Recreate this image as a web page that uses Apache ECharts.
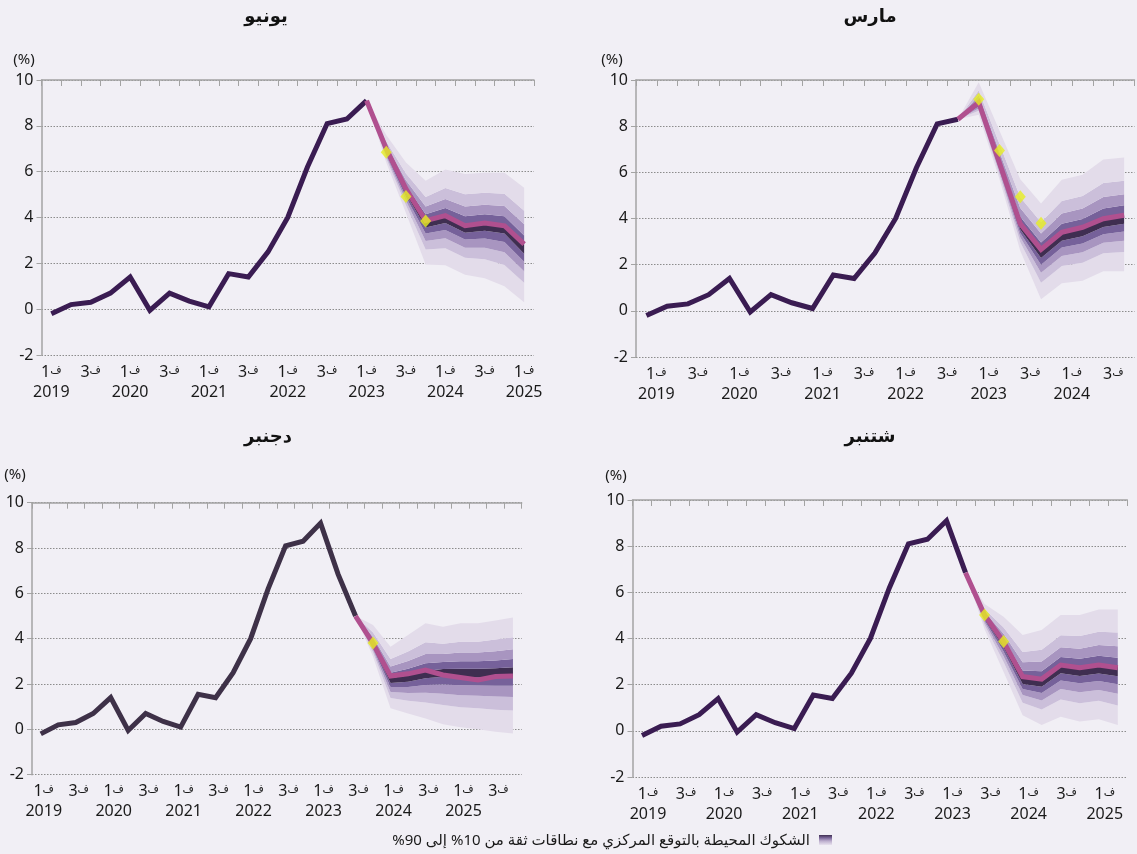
<!DOCTYPE html>
<html><head><meta charset="utf-8">
<script src="https://cdn.jsdelivr.net/npm/echarts@6/dist/echarts.min.js"></script>
<style>html,body{margin:0;padding:0;background:#f1eff5}#c{width:1137px;height:854px}</style>
</head><body><div id="c"></div><script>
// ---------- DATA ----------
const quarters = ['2019Q1','2019Q2','2019Q3','2019Q4','2020Q1','2020Q2','2020Q3','2020Q4',
  '2021Q1','2021Q2','2021Q3','2021Q4','2022Q1','2022Q2','2022Q3','2022Q4',
  '2023Q1','2023Q2','2023Q3','2023Q4','2024Q1','2024Q2','2024Q3','2024Q4',
  '2025Q1','2025Q2','2025Q3','2025Q4'];
// observed inflation (%), 2019Q1 .. 2023Q3
const inflation = [-0.2, 0.2, 0.3, 0.7, 1.4, -0.05, 0.7, 0.35, 0.1, 1.55, 1.4, 2.5, 4.0, 6.2, 8.1, 8.3, 9.1, 6.85, 5.0];

// fan rows: [lo90, lo70, lo50, lo30, lo10, hi10, hi30, hi50, hi70, hi90]
// ---- June (يونيو): forecast from 2023Q1
const centralJune = [9.1, 7.0, 5.25, 3.86, 4.08, 3.64, 3.76, 3.64, 2.84];
const fanJune = [
  [9.1,9.1,9.1,9.1,9.1,9.1,9.1,9.1,9.1,9.1],
  [6.4,6.57,6.67,6.75,6.81,6.91,7.02,7.16,7.32,7.6],
  [4.2,4.53,4.73,4.89,5.03,5.2,5.4,5.63,5.92,6.4],
  [1.95,2.6,2.98,3.3,3.56,3.85,4.14,4.48,4.9,5.6],
  [1.92,2.66,3.1,3.46,3.76,4.09,4.42,4.81,5.29,6.1],
  [1.5,2.24,2.68,3.04,3.34,3.69,4.05,4.48,5.01,5.9],
  [1.35,2.18,2.68,3.08,3.42,3.79,4.14,4.56,5.08,5.95],
  [1.0,1.93,2.48,2.93,3.3,3.7,4.06,4.5,5.04,5.95],
  [0.3,1.15,1.66,2.07,2.42,2.82,3.22,3.71,4.3,5.3]
];
const outturnJune = ['-', 6.85, 4.92, 3.85];

// ---- March (مارس): forecast from 2022Q4
const centralMarch = [8.3, 9.03, 6.4, 3.77, 2.66, 3.4, 3.62, 3.99, 4.14];
const fanMarch = [
  [8.3,8.3,8.3,8.3,8.3,8.3,8.3,8.3,8.3,8.3],
  [8.5,8.67,8.77,8.85,8.91,9.03,9.17,9.34,9.55,9.9],
  [5.7,5.9,6.02,6.12,6.21,6.37,6.61,6.89,7.23,7.8],
  [2.6,2.97,3.19,3.37,3.52,3.77,4.08,4.46,4.92,5.7],
  [0.5,1.22,1.65,2.0,2.29,2.63,2.96,3.35,3.84,4.65],
  [1.2,1.94,2.38,2.74,3.04,3.4,3.77,4.22,4.76,5.68],
  [1.3,2.08,2.54,2.92,3.23,3.6,3.98,4.43,4.98,5.9],
  [1.72,2.49,2.95,3.32,3.63,4.02,4.43,4.93,5.54,6.56],
  [1.72,2.55,3.04,3.44,3.77,4.17,4.57,5.05,5.64,6.64]
];
const outturnMarch = ['-', 9.17, 6.95, 4.94, 3.79];

// ---- September (شتنبر): forecast from 2023Q2
const centralSept = [6.85, 5.02, 3.86, 2.35, 2.24, 2.85, 2.73, 2.85, 2.73];
const fanSept = [
  [6.85,6.85,6.85,6.85,6.85,6.85,6.85,6.85,6.85,6.85],
  [4.4,4.59,4.7,4.79,4.86,4.95,5.04,5.15,5.28,5.5],
  [2.55,2.98,3.23,3.44,3.61,3.8,3.99,4.21,4.48,4.94],
  [0.68,1.22,1.55,1.81,2.03,2.31,2.61,2.97,3.41,4.15],
  [0.25,0.92,1.31,1.64,1.91,2.24,2.58,3.0,3.51,4.37],
  [0.61,1.36,1.81,2.18,2.49,2.84,3.2,3.62,4.14,5.02],
  [0.4,1.2,1.67,2.06,2.38,2.75,3.12,3.56,4.11,5.02],
  [0.5,1.3,1.77,2.16,2.48,2.86,3.25,3.72,4.29,5.26],
  [0.25,1.1,1.61,2.02,2.37,2.77,3.17,3.66,4.26,5.26]
];
const outturnSept = ['-', 5.02, 3.87];

// ---- December (دجنبر): forecast from 2023Q3
const centralDec = [5.0, 3.79, 2.35, 2.45, 2.62, 2.4, 2.29, 2.18, 2.33, 2.35];
const fanDec = [
  [5.0,5.0,5.0,5.0,5.0,5.0,5.0,5.0,5.0,5.0],
  [3.2,3.39,3.5,3.59,3.66,3.77,3.91,4.07,4.27,4.6],
  [0.93,1.38,1.65,1.87,2.05,2.27,2.5,2.77,3.1,3.65],
  [0.7,1.26,1.6,1.87,2.1,2.38,2.67,3.02,3.44,4.16],
  [0.48,1.19,1.61,1.96,2.25,2.58,2.92,3.33,3.84,4.68],
  [0.23,1.07,1.57,1.98,2.32,2.66,2.97,3.33,3.78,4.53],
  [0.09,0.98,1.51,1.95,2.31,2.67,3.0,3.39,3.87,4.68],
  [0.0,0.93,1.48,1.93,2.3,2.67,3.0,3.39,3.87,4.68],
  [-0.1,0.87,1.45,1.92,2.31,2.7,3.04,3.45,3.96,4.8],
  [-0.18,0.83,1.43,1.92,2.33,2.74,3.1,3.53,4.06,4.94]
];
const outturnDec = ['-', 3.81];

const panelTitles = ['يونيو', 'مارس', 'دجنبر', 'شتنبر'];
const legendText = 'الشكوك المحيطة بالتوقع المركزي مع نطاقات ثقة من 10% إلى 90%';
const quarterMark = 'ف';

// ---------- STYLE / LAYOUT ----------
const FONT = "'Noto Sans', 'DejaVu Sans', sans-serif";
const bandColors = ['#e3dcea', '#cbbfda', '#a895c0', '#76619a', '#3f2e51']; // 90,70,50,30,10
const panels = [
  {title: panelTitles[0], n: 25, start: 16, central: centralJune, fan: fanJune, out: outturnJune,
   grid: {left: 41.5, top: 80, width: 492.5, height: 275}, shift: 0, hist: '#3a1c52',
   tx: 266, ty: 17, px: 24, py: 60},
  {title: panelTitles[1], n: 24, start: 15, central: centralMarch, fan: fanMarch, out: outturnMarch,
   grid: {left: 636, top: 80, width: 498.5, height: 277}, shift: 10, hist: '#3a1c52',
   tx: 870, ty: 17, px: 612, py: 60},
  {title: panelTitles[2], n: 28, start: 18, central: centralDec, fan: fanDec, out: outturnDec,
   grid: {left: 32, top: 502.7, width: 489.7, height: 272}, shift: 3, hist: '#3e3148',
   tx: 268, ty: 437, px: 15, py: 475},
  {title: panelTitles[3], n: 26, start: 17, central: centralSept, fan: fanSept, out: outturnSept,
   grid: {left: 632.5, top: 500, width: 494.8, height: 277}, shift: 6, hist: '#3a1c52',
   tx: 870, ty: 437, px: 616, py: 476}
];

function pad(start, arr) { return Array(start).fill('-').concat(arr); }
function qLabel(v) {
  const y = v.slice(0, 4), q = v.slice(5);
  return q === '1' ? '{n|1}{q|' + quarterMark + '}\n{y|' + y + '}' : '{n|' + q + '}{q|' + quarterMark + '}';
}

const option = {backgroundColor: '#f1eff5', animation: false, grid: [], xAxis: [], yAxis: [], series: [], graphic: []};

panels.forEach((p, i) => {
  const cats = quarters.slice(0, p.n);
  option.grid.push(Object.assign({outerBoundsMode: 'none', containLabel: false}, p.grid));
  option.xAxis.push({
    gridIndex: i, type: 'category', data: cats, boundaryGap: true, position: 'bottom',
    axisLine: {show: false}, axisTick: {show: false}, splitLine: {show: false},
    axisLabel: {interval: 1, margin: 7, formatter: qLabel, padding: [0, 0, 0, 2 * p.shift],
      rich: {
        n: {fontSize: 16, lineHeight: 20, color: '#1a1a1a', fontFamily: FONT},
        q: {fontSize: 11, lineHeight: 20, color: '#1a1a1a', fontFamily: FONT, padding: [0, 0, 5, 0]},
        y: {fontSize: 16, lineHeight: 20, color: '#1a1a1a', fontFamily: FONT}
      }}
  });
  option.xAxis.push({
    gridIndex: i, type: 'category', data: cats, boundaryGap: true, position: 'top',
    axisLine: {show: true, onZero: true, lineStyle: {color: '#a3a3a3', width: 1.5}},
    axisTick: {show: true, inside: true, interval: 0, length: 6, lineStyle: {color: '#a3a3a3', width: 1}},
    axisLabel: {show: false}, splitLine: {show: false}
  });
  option.yAxis.push({
    gridIndex: i, type: 'value', min: -2, max: 10, interval: 2,
    axisLine: {show: true, lineStyle: {color: '#a3a3a3', width: 1.5}},
    axisTick: {show: true, length: 5, lineStyle: {color: '#a3a3a3'}},
    axisLabel: {fontSize: 16, color: '#1a1a1a', margin: 8, fontFamily: FONT},
    splitLine: {show: true, lineStyle: {type: [1.5, 1.5], color: '#8c8c8c', width: 1}}
  });
  const xi = 2 * i;
  // fan: transparent base + 9 stacked bands
  const base = pad(p.start, p.fan.map(r => r[0]));
  option.series.push({type: 'line', xAxisIndex: xi, yAxisIndex: i, stack: 'fan' + i, stackStrategy: 'all',
    data: base, symbol: 'none', lineStyle: {opacity: 0}, silent: true, z: 2});
  const colorIdx = [0, 1, 2, 3, 4, 3, 2, 1, 0];
  for (let k = 1; k < 10; k++) {
    option.series.push({type: 'line', xAxisIndex: xi, yAxisIndex: i, stack: 'fan' + i, stackStrategy: 'all',
      data: pad(p.start, p.fan.map(r => +(r[k] - r[k - 1]).toFixed(3))),
      symbol: 'none', lineStyle: {opacity: 0}, silent: true, z: 2,
      areaStyle: {color: bandColors[colorIdx[k - 1]], opacity: 1}});
  }
  // observed
  option.series.push({type: 'line', xAxisIndex: xi, yAxisIndex: i, data: inflation.slice(0, p.start + 1),
    symbol: 'none', lineStyle: {color: p.hist, width: 5, join: 'miter'}, z: 3, silent: true});
  // central forecast
  option.series.push({type: 'line', xAxisIndex: xi, yAxisIndex: i, data: pad(p.start, p.central),
    symbol: 'none', lineStyle: {color: '#b0508f', width: 5, join: 'miter'}, z: 4, silent: true});
  // outturns
  option.series.push({type: 'scatter', xAxisIndex: xi, yAxisIndex: i, data: pad(p.start, p.out),
    symbol: 'diamond', symbolSize: [11, 13], itemStyle: {color: '#e6ee22'}, z: 5, silent: true});

  option.graphic.push({type: 'text', x: p.tx, y: p.ty, style: {text: p.title, fill: '#111',
    font: 'bold 18px ' + FONT, align: 'center', verticalAlign: 'middle'}});
  option.graphic.push({type: 'text', x: p.px, y: p.py, style: {text: '(%)', fill: '#1a1a1a',
    font: '15px ' + FONT, align: 'center', verticalAlign: 'middle'}});
});

option.graphic.push({type: 'rect', shape: {x: 819, y: 835, width: 13, height: 10},
  style: {fill: new echarts.graphic.LinearGradient(0, 0, 0, 1, [
    {offset: 0, color: '#3f2e51'}, {offset: 0.3, color: '#7d699c'}, {offset: 0.6, color: '#bcaecd'}, {offset: 1, color: '#e8e2ee'}])}});
// right-to-left embedding so the Arabic sentence and its numbers are ordered correctly
option.graphic.push({type: 'text', x: 810, y: 841, style: {text: '\u202B' + legendText + '\u202C', fill: '#1a1a1a',
  font: '15px ' + FONT, align: 'right', verticalAlign: 'middle'}});

const chart = echarts.init(document.getElementById('c'), null, {renderer: 'canvas'});
chart.setOption(option);
</script></body></html>
